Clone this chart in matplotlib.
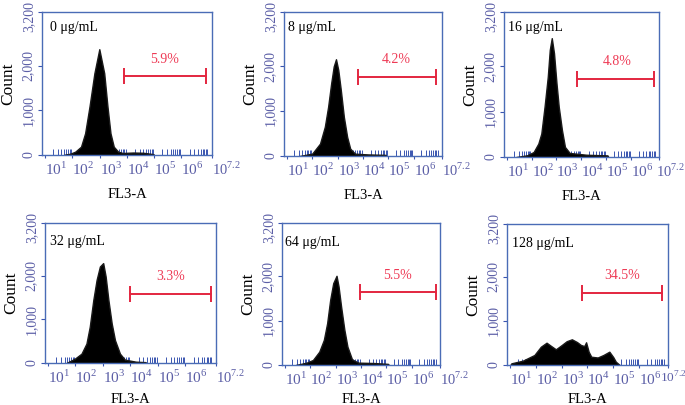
import matplotlib
matplotlib.use("Agg")
import matplotlib.pyplot as plt
import numpy as np

plt.rcParams['font.family'] = ['Liberation Serif', 'DejaVu Serif']
plt.rcParams['mathtext.fontset'] = 'custom'
plt.rcParams['mathtext.rm'] = 'Liberation Serif'

# ---- data: log10(FL3-A) positions and counts ----
titles = ["0 μg/mL", "8 μg/mL", "16 μg/mL", "32 μg/mL", "64 μg/mL", "128 μg/mL"]
percents = ["5.9%", "4.2%", "4.8%", "3.3%", "5.5%", "34.5%"]

logx_0 = [1.70, 1.93, 2.11, 2.32, 2.47, 2.63, 2.81, 2.99, 3.17, 3.29, 3.40, 3.52, 3.68, 3.85, 4.23, 4.60, 4.96, 5.00]
cnt_0 = [0, 30, 75, 186, 486, 1082, 1830, 2368, 1830, 1082, 486, 186, 75, 45, 55, 50, 20, 0]

logx_8 = [1.50, 2.00, 2.31, 2.50, 2.63, 2.75, 2.85, 2.94, 3.03, 3.13, 3.25, 3.38, 3.50, 3.69, 4.20, 4.88, 4.92]
cnt_8 = [0, 52, 275, 650, 1094, 1615, 1990, 2150, 1912, 1466, 870, 424, 164, 52, 35, 25, 0]

logx_16 = [1.38, 1.82, 2.08, 2.27, 2.39, 2.52, 2.65, 2.73, 2.81, 2.90, 3.00, 3.09, 3.22, 3.34, 3.53, 4.20, 5.05, 5.08]
cnt_16 = [0, 37, 110, 296, 517, 1108, 1773, 2365, 2623, 2291, 1626, 1108, 591, 222, 89, 50, 35, 0]

logx_32 = [1.67, 1.98, 2.22, 2.40, 2.52, 2.65, 2.77, 2.89, 3.01, 3.10, 3.20, 3.32, 3.44, 3.62, 3.80, 4.20, 4.54, 4.58]
cnt_32 = [0, 100, 214, 444, 827, 1440, 1900, 2206, 2283, 1976, 1440, 904, 521, 214, 77, 30, 20, 0]

logx_64 = [1.43, 1.86, 2.11, 2.36, 2.54, 2.67, 2.79, 2.91, 3.04, 3.12, 3.22, 3.35, 3.47, 3.65, 3.90, 4.50, 5.07, 5.10]
cnt_64 = [0, 53, 113, 301, 565, 941, 1468, 1845, 2010, 1770, 1318, 791, 414, 128, 53, 45, 25, 0]

logx_128 = [1.02, 1.06, 1.50, 1.95, 2.20, 2.42, 2.60, 2.78, 3.00, 3.20, 3.40, 3.60, 3.75, 3.88, 3.95, 4.05, 4.15, 4.40, 4.62, 4.85, 5.00, 5.10, 5.25]
cnt_128 = [0, 38, 98, 227, 415, 506, 430, 356, 450, 540, 583, 520, 454, 430, 515, 300, 188, 170, 227, 302, 180, 75, 0]

gate_start = [3.89, 3.79, 3.81, 4.00, 3.98, 3.78]   # log10
gate_end = [6.91, 6.88, 6.92, 6.95, 6.95, 6.88]     # log10
gate_y = [1758, 1763, 1722, 1570, 1634, 1630]
label_logx = [5.39, 5.30, 5.45, 5.48, 5.44, 5.35]
label_y = [2130, 2150, 2100, 1976, 2010, 2024]

ytick_vals = [0, 1000, 2000, 3200]
ytick_labels = ["0", "1,000", "2,000", "3,200"]
xtick_labels = ["$10^{1}$", "$10^{2}$", "$10^{3}$", "$10^{4}$", "$10^{5}$", "$10^{6}$", "$10^{7.2}$"]

series = [(logx_0, cnt_0), (logx_8, cnt_8), (logx_16, cnt_16),
          (logx_32, cnt_32), (logx_64, cnt_64), (logx_128, cnt_128)]

# panel boxes in pixels: left, right, top, bottom
boxes = [(42, 212, 12, 155), (284, 442, 12, 156), (504, 659, 12, 157),
         (45, 216, 223, 363), (282, 440, 223, 365), (507, 668, 224, 365)]
title_pos = [(0.047, 0.895), (0.027, 0.895), (0.026, 0.895),
             (0.03, 0.865), (0.02, 0.865), (0.03, 0.865)]
xlabel_pad = [7, 7, 7, 5, 4, 4]
last_label_shift = [0, 0, -2, 0, 0, -6]   # points
last_label_size = [10.5, 10.5, 10.5, 10.5, 10.5, 9.5]

W, H = 685, 405
fig = plt.figure(figsize=(W / 100, H / 100), dpi=100)

spine_c = '#4a6cb6'
tick_c = '#3a55b0'
lab_c = '#5b5ea6'
red = '#e3263f'
red_t = '#ee3a55'

XMIN, XMAX = 0.89, 7.12

for i in range(6):
    L, R, T, B = boxes[i]
    ax = fig.add_axes([L / W, 1 - B / H, (R - L) / W, (B - T) / H])
    lx, c = series[i]
    x = 10 ** np.array(lx)
    ax.fill_between(x, 0, c, color='black', lw=1.0, edgecolor='#1a1a1a', zorder=2)
    ax.set_xscale('log')
    ax.set_xlim(10 ** XMIN, 10 ** XMAX)
    ax.set_ylim(0, 3200)
    for s in ax.spines.values():
        s.set_color(spine_c)
        s.set_linewidth(1.0)
    # x ticks (decades); last label drawn separately at the axis end
    major = [10.0 ** k for k in range(1, 7)] + [10 ** XMAX]
    ax.set_xticks(major)
    ax.set_xticklabels(xtick_labels[:-1] + [""], fontsize=11, color=lab_c)
    for t in ax.get_xticklabels():
        t.set_horizontalalignment('left')
    ax.annotate(xtick_labels[-1], xy=(1, 0), xycoords='axes fraction',
                xytext=(last_label_shift[i], -4), textcoords='offset points',
                ha='left', va='top', fontsize=last_label_size[i], color=lab_c)
    minors = [m * 10.0 ** k for k in range(1, 7) for m in range(2, 10)]
    ax.set_xticks(minors, minor=True)
    ax.tick_params(axis='x', which='minor', direction='in', length=4, width=0.7,
                   color=tick_c, top=False)
    ax.tick_params(axis='x', which='major', direction='out', length=2, width=0.8,
                   color=tick_c, pad=2, top=False)
    # y ticks; top label drawn separately, nudged down
    ax.set_yticks(ytick_vals)
    ax.set_yticklabels(ytick_labels[:-1] + [""], fontsize=10, color=lab_c,
                       rotation=90, va='center')
    ax.annotate(ytick_labels[-1], xy=(0, ytick_vals[-1]),
                xycoords=('axes fraction', 'data'), xytext=(-5, -3),
                textcoords='offset points', ha='right', va='center',
                rotation=90, fontsize=10, color=lab_c)
    ax.tick_params(axis='y', which='major', direction='out', length=3, width=0.8,
                   color=tick_c, pad=2, right=False)
    ax.yaxis.set_minor_locator(matplotlib.ticker.NullLocator())
    ax.set_ylabel("Count", fontsize=12.5, color='black', labelpad=4)
    ax.set_xlabel("FL3-A", fontsize=10.5, color='black', labelpad=xlabel_pad[i])
    # gate
    gx = [10 ** gate_start[i], 10 ** gate_end[i]]
    ax.plot(gx, [gate_y[i], gate_y[i]], color=red, lw=1.4, zorder=3)
    ax.plot(gx, [gate_y[i], gate_y[i]], ls='none', marker='|', markersize=12,
            markeredgewidth=1.4, color=red, zorder=3)
    ax.text(10 ** label_logx[i], label_y[i], percents[i], color=red_t, fontsize=10,
            ha='center', va='center')
    ax.text(title_pos[i][0], title_pos[i][1], titles[i], transform=ax.transAxes,
            fontsize=10, ha='left', va='center', color='black')

fig.savefig("out.png", dpi=100)
